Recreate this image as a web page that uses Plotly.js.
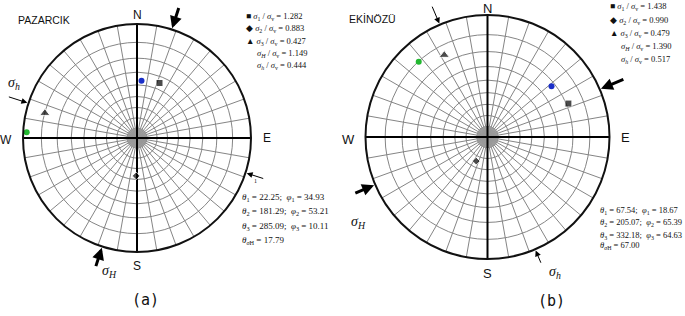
<!DOCTYPE html>
<html><head><meta charset="utf-8">
<script src="https://cdn.plot.ly/plotly-3.0.1.min.js"></script>
<style>html,body{margin:0;padding:0;background:#fff}#plot{width:685px;height:316px}</style>
</head><body><div id="plot"></div>
<script>
// ---- data ----
const sites = ["PAZARCIK", "EKİNÖZÜ"];
// principal stress axes: trend (deg) and plunge (deg) of sigma1, sigma2, sigma3
const trendA = [22.25, 181.29, 285.09];
const plungeA = [34.93, 53.21, 10.11];
const trendB = [67.54, 205.07, 332.18];
const plungeB = [18.67, 65.39, 15.6];
// extra coloured points (blue, green)
const extraTrendA = [4.5, 273.0];
const extraPlungeA = [36.5, 1.8];
const extraTrendB = [51.6, 317.6];
const extraPlungeB = [22.4, 10.2];
// direction of maximum horizontal stress
const sigmaHA = 17.79;
const sigmaHB = 67.00;
// ratio legend values
const ratioA = ["1.282", "0.883", "0.427", "1.149", "0.444"];
const ratioB = ["1.438", "0.990", "0.479", "1.390", "0.517"];
const angleTextA = [["22.25", "34.93"], ["181.29", "53.21"], ["285.09", "10.11"], "17.79"];
const angleTextB = [["67.54", "18.67"], ["205.07", "65.39"], ["332.18", "64.63"], "67.00"];

// ---- geometry ----
const W = 685, H = 316;
const gA = {cx: 137, cy: 138, R: 114};
const gB = {cx: 487.5, cy: 137, R: 122};
const D = Math.PI / 180;
const stereo = p => Math.tan((90 - p) / 2 * D);
const rings = [];
for (let a = 10; a <= 80; a += 10) rings.push(Math.tan(a / 2 * D));

function dom(g) {
  return {x: [(g.cx - g.R) / W, (g.cx + g.R) / W], y: [1 - (g.cy + g.R) / H, 1 - (g.cy - g.R) / H]};
}
function polarLayout(g) {
  return {
    domain: dom(g), bgcolor: "rgba(0,0,0,0)",
    angularaxis: {rotation: 90, direction: "clockwise", dtick: 10, showticklabels: false, ticks: "",
      linecolor: "#111", linewidth: 2, showline: true, gridcolor: "#858585", gridwidth: 1},
    radialaxis: {range: [0, 1], tickvals: rings, showticklabels: false, ticks: "", showline: false,
      gridcolor: "#858585", gridwidth: 1}
  };
}
function centerTrace(sub) {
  const r = [], t = [];
  for (let a = 0; a < 360; a += 2) { r.push(0, rings[0], null); t.push(a, a, null); }
  return {type: "scatterpolar", subplot: sub, r, theta: t, mode: "lines",
    line: {color: "#9a9a9a", width: 0.7}, hoverinfo: "skip", showlegend: false};
}
function axesTrace(sub) {
  return {type: "scatterpolar", subplot: sub, r: [1, 0, 1, null, 1, 0, 1], theta: [0, 0, 180, null, 90, 90, 270],
    mode: "lines", line: {color: "#000", width: 2}, hoverinfo: "skip", showlegend: false};
}
function pointTraces(sub, tr, pl, ex, exp) {
  return [
    {type: "scatterpolar", subplot: sub, r: pl.map(stereo), theta: tr, mode: "markers",
      marker: {symbol: ["square", "diamond", "triangle-up"], size: [7, 6, 9], color: "#000"}, showlegend: false},
    {type: "scatterpolar", subplot: sub, r: exp.map(stereo), theta: ex, mode: "markers",
      marker: {symbol: "circle", size: 6, color: ["#1a2fc8", "#22b830"]}, showlegend: false}
  ];
}

const data = [
  centerTrace("polar"), axesTrace("polar"), ...pointTraces("polar", trendA, plungeA, extraTrendA, extraPlungeA),
  centerTrace("polar2"), axesTrace("polar2"), ...pointTraces("polar2", trendB, plungeB, extraTrendB, extraPlungeB)
];

const ann = [];
function px(x, y) { return {x: x / W, y: 1 - y / H}; }
function txt(x, y, text, size, family, xa, ya, extra) {
  ann.push(Object.assign({xref: "paper", yref: "paper", ...px(x, y), text, showarrow: false,
    xanchor: xa || "center", yanchor: ya || "middle", font: {size, family, color: "#111"}}, extra || {}));
}
function arrow(g, az, len, width, size) {
  const a = az * D;
  const tx = g.cx + g.R * 1.01 * Math.sin(a), ty = g.cy - g.R * 1.01 * Math.cos(a);
  ann.push({xref: "paper", yref: "paper", ...px(tx, ty), text: "", showarrow: true,
    ax: len * Math.sin(a), ay: -len * Math.cos(a), arrowhead: 2, arrowwidth: width, arrowsize: size,
    arrowcolor: "#000"});
}
const sans = "Liberation Sans, Arial, sans-serif";
const serif = "Liberation Serif, Times New Roman, serif";

// compass labels
[[gA, 12], [gB, 13]].forEach(([g, s]) => {
  txt(g.cx, Math.max(g.cy - g.R - 9, 8), "N", s, sans);
  txt(g.cx, g.cy + g.R + 14, "S", s, sans);
  txt(g.cx + g.R + 16, g.cy, "E", s, sans);
  txt(g.cx - g.R - 17, g.cy + 2, "W", s, sans);
});
txt(16, 20, sites[0], 10.5, sans, "left");
txt(347, 19, sites[1], 10.5, sans, "left");

// arrows
arrow(gA, sigmaHA, 23, 3, 0.8);
arrow(gA, sigmaHA + 180, 21, 3, 0.8);
arrow(gA, sigmaHA + 270, 21, 1, 1.2);
arrow(gA, sigmaHA + 90, 19, 1, 1.2);
arrow(gB, sigmaHB, 26, 3, 0.8);
arrow(gB, sigmaHB + 180, 22, 3, 0.8);
arrow(gB, sigmaHB + 270, 20, 1, 1.2);
arrow(gB, sigmaHB + 90, 15, 1, 1.2);

const sH = "<i>σ</i><sub><i>H</i></sub>", sh = "<i>σ</i><sub><i>h</i></sub>";
txt(100, 271, sH, 14, serif, "left");
txt(6, 84, sh, 14, serif, "left");
txt(349, 222, sH, 14, serif, "left");
txt(547, 272, sh, 14, serif, "left");
txt(252, 181, "1", 6, serif, "left");

// legends
const marks = ["■", "◆", "▲", "", ""];
const lhs = ["<i>σ</i><sub>1</sub> / <i>σ</i><sub>v</sub>", "<i>σ</i><sub>2</sub> / <i>σ</i><sub>v</sub>",
  "<i>σ</i><sub>3</sub> / <i>σ</i><sub>v</sub>", "<i>σ</i><sub><i>H</i></sub> / <i>σ</i><sub>v</sub>",
  "<i>σ</i><sub><i>h</i></sub> / <i>σ</i><sub>v</sub>"];
const lyA = [16, 28.7, 41, 53.3, 65.3], lyB = [6.7, 20.7, 33.3, 46, 59.3];
ratioA.forEach((v, i) => txt(i < 3 ? 244 : 255, lyA[i], (marks[i] ? marks[i] + " " : "") + lhs[i] + " = " + v, 8.5, serif, "left"));
ratioB.forEach((v, i) => txt(i < 3 ? 608 : 619, lyB[i], (marks[i] ? marks[i] + " " : "") + lhs[i] + " = " + v, 8.5, serif, "left"));

function angleBlock(arr, x, ys, size) {
  for (let i = 0; i < 3; i++)
    txt(x, ys[i], "<i>θ</i><sub>" + (i + 1) + "</sub> = " + arr[i][0] + ";  <i>φ</i><sub>" + (i + 1) + "</sub> = " + arr[i][1], size, serif, "left");
  txt(x, ys[3], "<i>θ</i><sub><i>σ</i>H</sub> = " + arr[3], size, serif, "left");
}
angleBlock(angleTextA, 240, [197, 211.5, 226, 240], 9);
angleBlock(angleTextB, 598, [210, 222.7, 235, 245], 8.5);

txt(145, 300, "(a)", 15, "DejaVu Sans Mono, monospace");
txt(551, 301, "(b)", 15, "DejaVu Sans Mono, monospace");

const layout = {
  width: W, height: H, margin: {l: 0, r: 0, t: 0, b: 0}, paper_bgcolor: "#fff", plot_bgcolor: "#fff",
  showlegend: false, polar: polarLayout(gA), polar2: polarLayout(gB), annotations: ann
};
Plotly.newPlot("plot", data, layout, {displayModeBar: false, staticPlot: true});
</script></body></html>
